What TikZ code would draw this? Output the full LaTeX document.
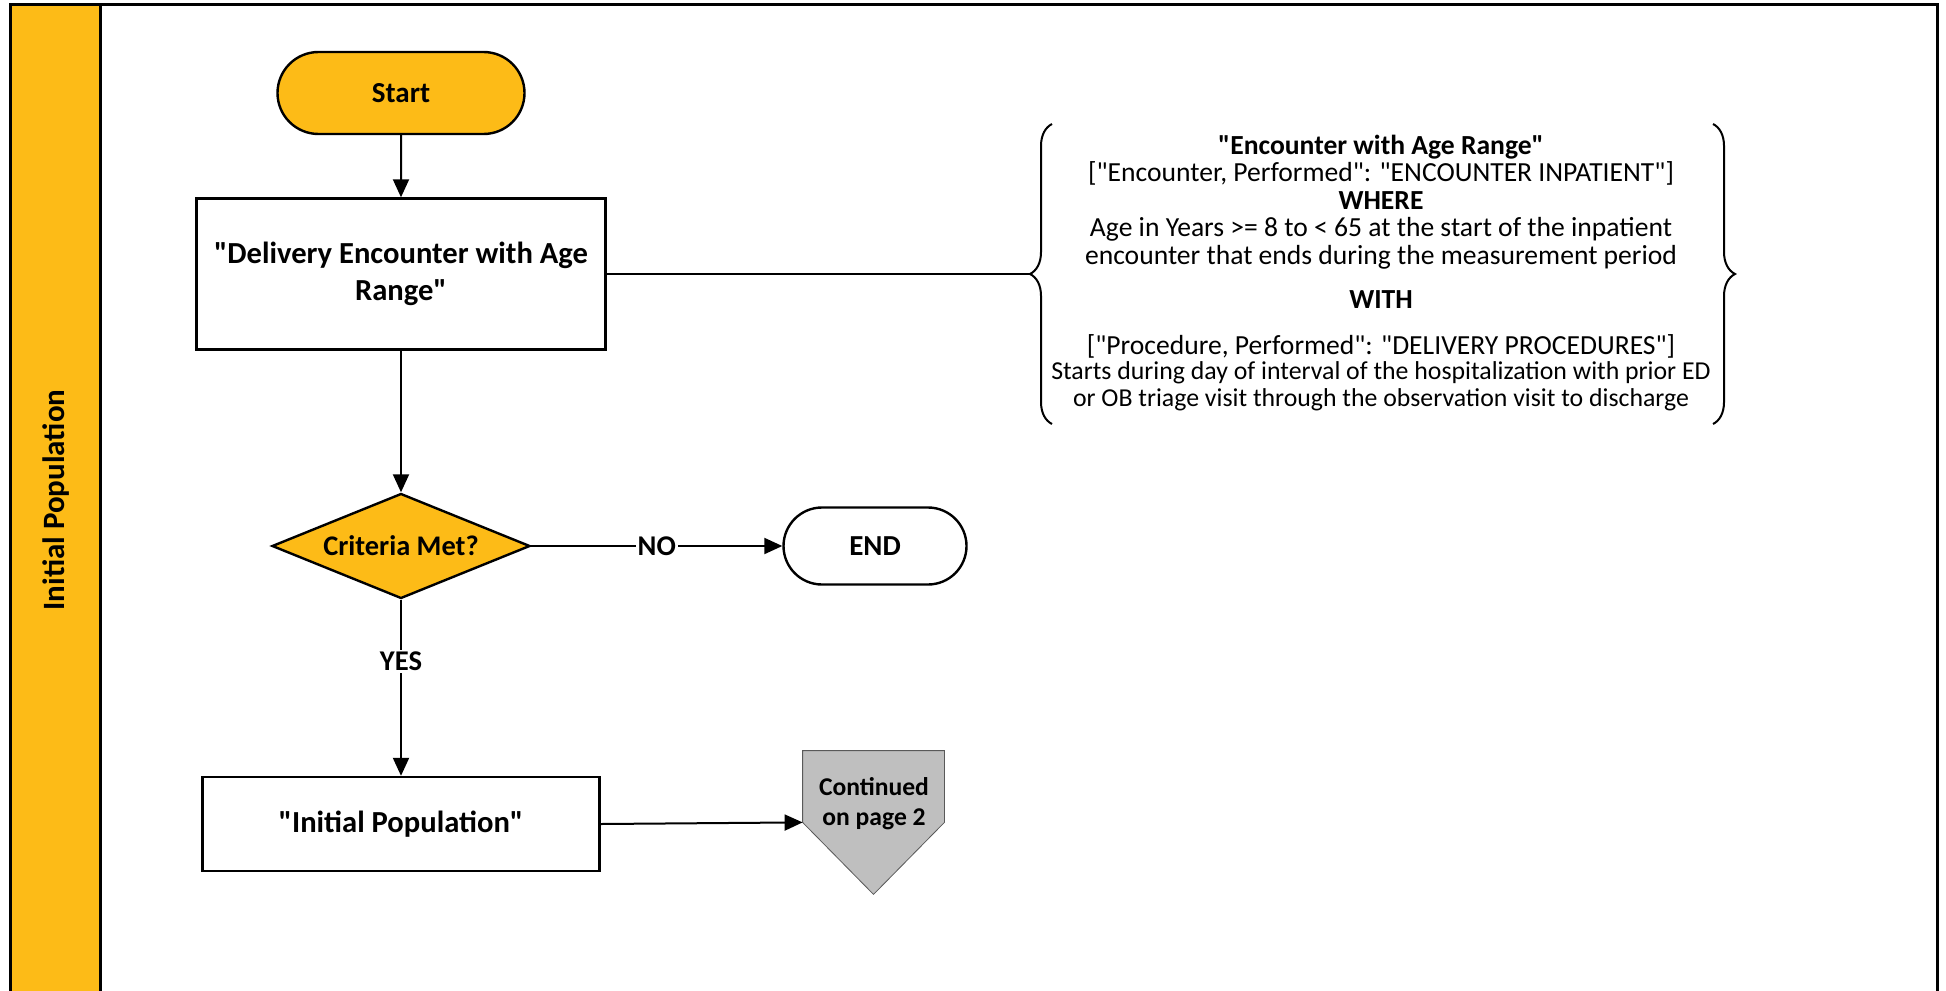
\documentclass[tikz,border=0pt]{standalone}
\usepackage{fontspec}
\setmainfont{Carlito}[Ligatures=TeXOff]
\usetikzlibrary{arrows.meta,shapes.geometric,shapes.misc,decorations.pathreplacing,calc}
\definecolor{amber}{RGB}{253,187,23}
\definecolor{contgray}{RGB}{191,191,191}
\tikzset{
  box/.style={draw=black, line width=1.2pt, fill=white, align=center, font=\bfseries\fontsize{15.3}{18.5}\selectfont, inner sep=0pt},
  term/.style={draw=black, line width=1.2pt, rounded rectangle, align=center, font=\bfseries\fontsize{14.5}{17}\selectfont, inner sep=0pt},
  decision/.style={draw=black, line width=1.2pt, fill=amber, diamond, aspect=2.46, inner sep=0pt, font=\bfseries\fontsize{14.2}{17}\selectfont},
  conn/.style={line width=1pt, -{Triangle[length=9pt,width=8pt]}},
  lbl/.style={fill=white, inner sep=1pt, font=\bfseries\fontsize{14.3}{17}\selectfont},
  frameline/.style={line width=1.5pt},
}
\begin{document}
\begin{tikzpicture}[x=0.5pt,y=-0.5pt]
\useasboundingbox (0,0) rectangle (1946,990);
% frame and band
\fill[amber] (10,5) rectangle (100,1000);
\draw[frameline] (10,1000) -- (10,5) -- (1937,5) -- (1937,1000);
\draw[frameline] (100,5) -- (100,1000);
\node[rotate=90, font=\bfseries\fontsize{15.5}{18}\selectfont] (band) at (56,500) {Initial Population};
% nodes
\node[term, fill=amber, minimum width=123.5pt, minimum height=41pt] (start) at (401,93) {Start};
\node[box, minimum width=204.5pt, minimum height=75.5pt] (deliv) at (401,274) {"Delivery Encounter with Age\\Range"};
\node[decision, minimum width=129pt, minimum height=52.5pt] (crit) at (401,546) {Criteria Met?};
\node[term, fill=white, minimum width=91.5pt, minimum height=38.5pt] (end) at (875,546) {END};
\node[box, minimum width=198.5pt, minimum height=47pt] (ip) at (401,824) {"Initial Population"};
% continued off-page connector
\node[minimum width=70.5pt, minimum height=35.5pt, inner sep=0pt] (cont) at (873.5,786.5) {};
\coordinate (conttip) at ($(cont.south)+(0,72)$);
\fill[contgray, draw=gray!70!black, line width=0.4pt] (cont.north west) -- (cont.north east) -- (cont.south east) -- (conttip) -- (cont.south west) -- cycle;
\node[align=center, font=\bfseries\fontsize{12.8}{15}\selectfont] (conttext) at (874,804) {Continued\\on page 2};
% criteria text with braces
\node[align=center, font=\fontsize{13.8}{13.8}\selectfont, inner sep=0pt] (rule) at (1381,273) {%
\textbf{"Encounter with Age Range"}\\
\relax["Encounter, Performed": "ENCOUNTER INPATIENT"]\\
\textbf{WHERE}\\
Age in Years >= 8 to < 65 at the start of the inpatient\\
encounter that ends during the measurement period\\[8pt]
\textbf{WITH}\\[9.5pt]
\relax["Procedure, Performed": "DELIVERY PROCEDURES"]\\[-1.5pt]
{\fontsize{12.9}{12.5}\selectfont Starts during day of interval of the hospitalization with prior ED}\\
{\fontsize{12.9}{12.5}\selectfont or OB triage visit through the observation visit to discharge}};
\coordinate (lbt) at (1052,124);
\coordinate (lbb) at (1052,424);
\coordinate (rbt) at (1713,124);
\coordinate (rbb) at (1713,424);
\draw[line width=1pt, decorate, decoration={brace, amplitude=11pt}] (lbb) -- (lbt);
\draw[line width=1pt, decorate, decoration={brace, amplitude=11pt}] (rbt) -- (rbb);
\coordinate (ltip) at (1030,274);
% connectors
\draw[conn] (start) -- (deliv);
\draw[conn] (deliv) -- (crit);
\draw[conn] (crit) -- (end) node[lbl, pos=0.5] {NO};
\draw[conn] (crit) -- (ip) node[lbl, pos=0.35] {YES};
\draw[conn] (ip.east) -- (cont.south west);
\draw[line width=1pt] (deliv.east) -- (ltip);
\end{tikzpicture}
\end{document}
